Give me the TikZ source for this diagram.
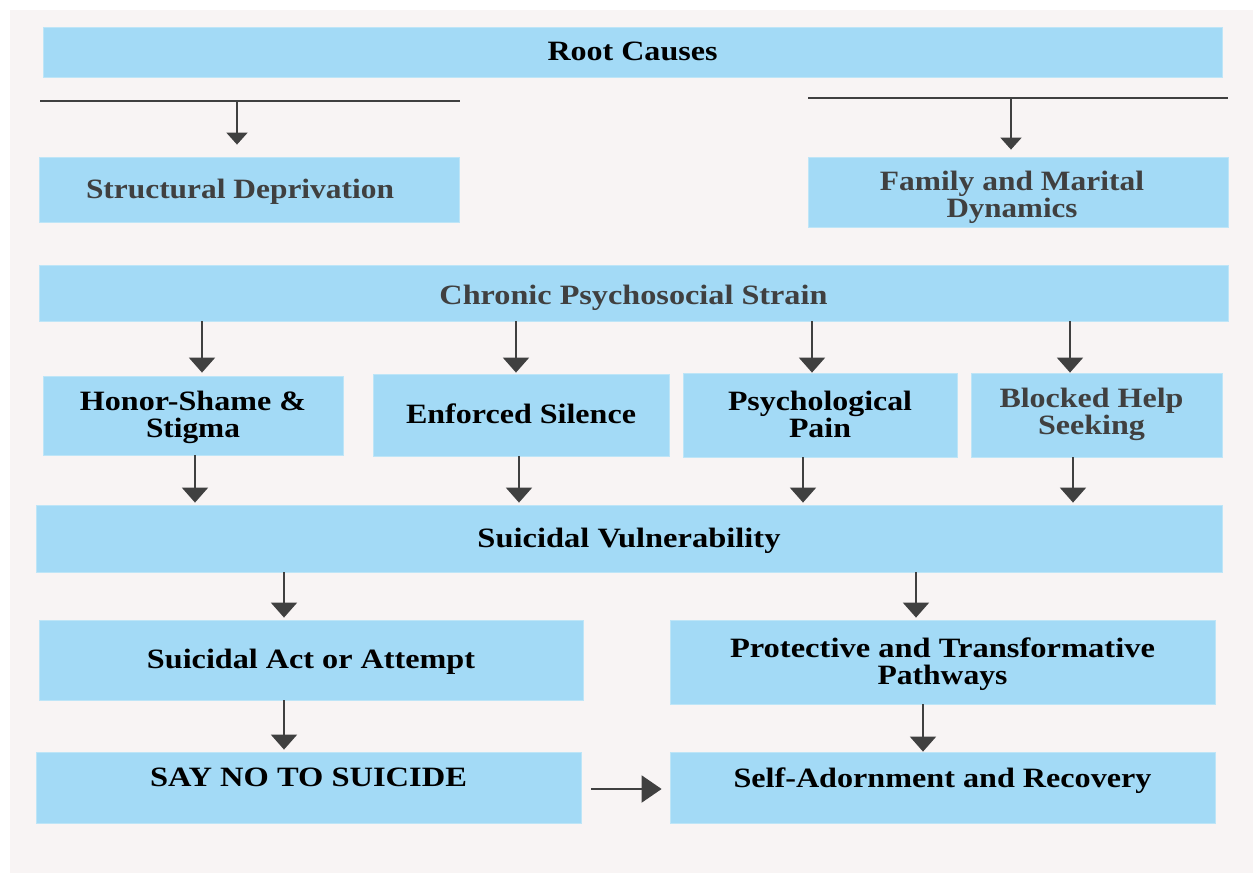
\documentclass[tikz,border=0pt]{standalone}
\usepackage{fontspec}
\setmainfont{Liberation Serif}
\usetikzlibrary{arrows.meta}
\definecolor{boxc}{HTML}{A3DAF6}
\definecolor{boxe}{HTML}{BEE5F7}
\definecolor{bgc}{HTML}{F8F4F4}
\definecolor{ink}{HTML}{404040}
\newcommand{\W}[2]{\resizebox{#1pt}{\height}{#2}}
\newcommand{\bx}[7][]{\node[box,#1,minimum width={#4-#2},minimum height={#5-#3}] (#6) at ({(#2+#4)/2},{(#3+#5)/2}) {#7};}
\begin{document}
\begin{tikzpicture}[x=1pt,y=-1pt,
  box/.style={fill=boxc, draw=boxe, line width=0.8pt, inner sep=0pt, align=center,
    font=\fontsize{28}{27}\selectfont\bfseries, text height=23pt, text depth=6pt},
  two/.style={text height=50pt, text depth=6pt},
  grey/.style={text=ink},
  rule/.style={draw=ink, line width=2pt},
  arr/.style={draw=ink, line width=2pt, -{Triangle[width=26pt,length=15pt]}},
  arrs/.style={draw=ink, line width=2pt, -{Triangle[width=21pt,length=12pt]}},
  arrh/.style={draw=ink, line width=2pt, -{Triangle[width=27pt,length=20pt]}}]
\useasboundingbox (0,0) rectangle (1253,873);
\fill[white] (0,0) rectangle (1253,873);
\fill[bgc] (10,10) rectangle (1253,873);

\bx{43}{27}{1222}{77}{root}{\W{170}{Root Causes}}
\bx[grey]{39}{157}{459}{222}{sd}{\W{308}{Structural Deprivation}\kern18pt}
\bx[grey,two]{808}{157}{1228}{227}{fm}{\raisebox{-3pt}{\W{264}{Family and Marital}}\kern12pt\\\raisebox{-3pt}{\W{131}{Dynamics}}\kern12pt}
\bx[grey]{39}{265}{1228}{321}{cps}{\raisebox{-3pt}{\W{388}{Chronic Psychosocial Strain}}}
\bx[two]{43}{376}{343}{455}{hs}{\W{226}{Honor-Shame \&}\\\W{94}{Stigma}}
\bx{373}{374}{669}{456}{es}{\W{230}{Enforced Silence}}
\bx[two]{683}{373}{957}{457}{pp}{\W{184}{Psychological}\\\W{62}{Pain}}
\bx[grey,two]{971}{373}{1222}{457}{bh}{\raisebox{3pt}{\W{184}{Blocked Help}}\kern10pt\\\raisebox{3pt}{\W{107}{Seeking}}\kern10pt}
\bx{36}{505}{1222}{572}{sv}{\W{303}{Suicidal Vulnerability}}
\bx{39}{620}{583}{700}{sa}{\W{328}{Suicidal Act or Attempt}}
\bx[two]{670}{620}{1215}{704}{pt}{\W{425}{Protective and Transformative}\\\W{130}{Pathways}}
\bx{36}{752}{581}{823}{sn}{\raisebox{10pt}{\W{317}{SAY NO TO SUICIDE}}}
\bx{670}{752}{1215}{823}{sr}{\raisebox{9pt}{\W{418}{Self-Adornment and Recovery}}}

\coordinate (la) at (40,101);
\coordinate (lb) at (460,101);
\coordinate (ra) at (808,98);
\coordinate (rb) at (1228,98);
\draw[rule] (la) -- (lb);
\draw[rule] (ra) -- (rb);
\draw[arrs, shorten >=12pt] (la -| 237,0) -- (sd.north -| 237,0);
\draw[arrs, shorten >=7pt] (ra -| 1011,0) -- (fm.north -| 1011,0);

\draw[arr] (cps.south -| 202,0) -- ([yshift=3pt]hs.north -| 202,0);
\draw[arr] (cps.south -| 516,0) -- ([yshift=1pt]es.north -| 516,0);
\draw[arr] (cps.south -| 812,0) -- (pp.north -| 812,0);
\draw[arr] (cps.south -| 1070,0) -- (bh.north -| 1070,0);

\draw[arr, shorten >=2pt] (hs.south -| 195,0) -- (sv.north -| 195,0);
\draw[arr, shorten >=2pt] (es.south -| 519,0) -- (sv.north -| 519,0);
\draw[arr, shorten >=2pt] (pp.south -| 803,0) -- (sv.north -| 803,0);
\draw[arr, shorten >=2pt] (bh.south -| 1073,0) -- (sv.north -| 1073,0);

\draw[arr, shorten >=2pt] (sv.south -| 284,0) -- (sa.north -| 284,0);
\draw[arr, shorten >=2pt] (sv.south -| 916,0) -- (pt.north -| 916,0);
\draw[arr, shorten >=2pt] (sa.south -| 284,0) -- (sn.north -| 284,0);
\draw[arr] (pt.south -| 923,0) -- (sr.north -| 923,0);
\draw[arrh, shorten <=10pt, shorten >=8pt] (sn.east |- 0,789) -- (sr.west |- 0,789);
\end{tikzpicture}
\end{document}
